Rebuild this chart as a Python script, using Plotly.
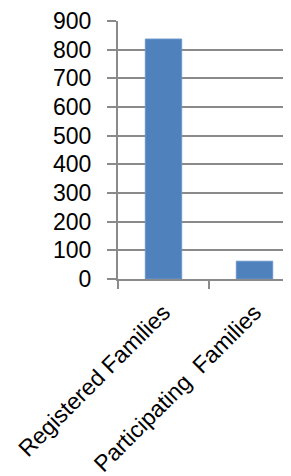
import plotly.graph_objects as go

categories = ["Registered Families", "Participating\u00a0 Families"]
values = [837, 62]
y_ticks = [0, 100, 200, 300, 400, 500, 600, 700, 800, 900]

fig = go.Figure(go.Bar(
    x=categories, y=values,
    marker=dict(color="#4F81BD", line=dict(color="#6A95CC", width=1)),
    width=0.4,
))

font = dict(family="Liberation Sans, Arial, sans-serif", size=23, color="#000000")
gray = "#8A8A8A"

# page body has an 8px default margin; figure is sized to fit the 291x476 window
fig.update_layout(
    width=283, height=468,
    margin=dict(l=110, r=0, t=13, b=197, pad=0),
    paper_bgcolor="white", plot_bgcolor="white",
    showlegend=False,
    font=font,
)
fig.update_xaxes(
    automargin=False,
    range=[-0.5, 1.401],
    tickangle=-45,
    tickson="boundaries",
    ticks="outside", ticklen=8, tickcolor=gray, tickwidth=2,
    showline=True, linecolor=gray, linewidth=2,
    showgrid=False,
    tickfont=font,
    ticklabelstandoff=9,
)
fig.update_yaxes(
    automargin=False,
    range=[0, 900],
    tickvals=y_ticks,
    ticks="outside", ticklen=9, tickcolor=gray, tickwidth=2,
    showline=True, linecolor=gray, linewidth=2,
    showgrid=True, gridcolor=gray, gridwidth=2,
    zeroline=False,
    tickfont=font,
    ticklabelstandoff=11,
)

fig.write_html("out.html")
